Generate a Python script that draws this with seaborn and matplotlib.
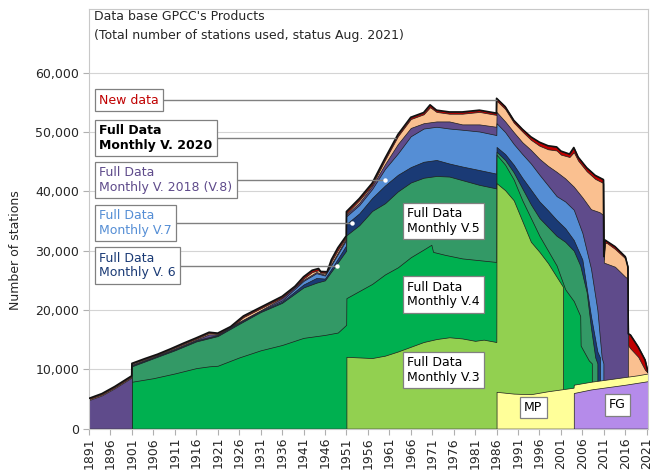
import matplotlib
matplotlib.use("Agg")
import matplotlib.pyplot as plt
import seaborn as sns
import pandas as pd
from matplotlib.ticker import FuncFormatter

# ---------------- data: cumulative upper boundary of each stacked layer ----------------
fg_years = [2004, 2008, 2012, 2016, 2021.3]
fg_vals = [6000, 6600, 7000, 7400, 8000]

mp_years = [1986, 1990, 1994, 1998, 2001, 2003.95, 2004, 2008, 2012, 2016, 2019, 2021.3]
mp_vals = [6200, 5900, 5800, 6300, 6600, 6900, 7400, 7900, 8300, 8700, 9000, 9300]

v3_years = [1951, 1954, 1957, 1960, 1963, 1966, 1969, 1972, 1975, 1978, 1981, 1983, 1985.95,
            1986, 1988, 1990, 1992, 1994, 1996, 1998, 2000, 2001.5]
v3_vals = [12100, 12000, 11900, 12300, 13000, 13800, 14600, 15100, 15400, 15200, 14800, 15000, 14600,
           41400, 40200, 38500, 35000, 31500, 29800, 27900, 25600, 23900]

v4_years = [1901, 1906, 1911, 1916, 1919, 1921, 1926, 1931, 1936, 1941, 1946, 1949, 1950.95,
            1951, 1954, 1957, 1960, 1963, 1966, 1969, 1970.8, 1971.2, 1974, 1978, 1982, 1985.95,
            1986, 1988, 1990, 1992, 1994, 1996, 1998, 2000, 2002, 2004, 2005.5, 2005.6, 2007.5, 2008.2]
v4_vals = [7900, 8500, 9300, 10200, 10500, 10600, 12000, 13200, 14100, 15300, 15800, 16200, 17500,
           22000, 23200, 24400, 26000, 27200, 28900, 30200, 31000, 29800, 29300, 28700, 28400, 28100,
           46200, 44500, 42000, 38500, 35500, 32500, 30000, 27500, 23500, 21500, 19000, 14000, 11500, 11000]

v5_years = [1901, 1906, 1911, 1916, 1921, 1926, 1931, 1936, 1941, 1944, 1946, 1948, 1950.95,
            1951, 1954, 1957, 1960, 1963, 1966, 1969, 1972, 1975, 1978, 1982, 1985.95,
            1986, 1988, 1990, 1992, 1994, 1996, 1998, 2000, 2002, 2004, 2005.5, 2007, 2008, 2009, 2009.5]
v5_vals = [10500, 11850, 13200, 14700, 15600, 17650, 19650, 21200, 23800, 24600, 25000, 27000, 30000,
           32600, 34300, 36700, 38000, 40000, 41500, 42300, 42600, 42500, 41900, 41100, 40500,
           46700, 45300, 43200, 40500, 37800, 35500, 34000, 32500, 31500, 30000, 27500, 23000, 17000, 12000, 11000]

v6_years = [1901, 1906, 1911, 1916, 1921, 1926, 1931, 1936, 1941, 1944, 1946, 1948, 1950.95,
            1951, 1954, 1957, 1960, 1963, 1966, 1969, 1972, 1975, 1978, 1982, 1985.95,
            1986, 1988, 1990, 1992, 1994, 1996, 1998, 2000, 2002, 2004, 2006, 2008, 2009.5, 2010.1]
v6_vals = [10600, 11950, 13300, 14800, 15700, 17800, 19800, 21400, 24300, 25400, 25300, 27500, 30900,
           34500, 36300, 38900, 41000, 42800, 44100, 45000, 45300, 44700, 44200, 43600, 43000,
           47500, 46300, 44500, 42300, 40300, 38300, 36800, 35200, 33800, 31800, 28500, 19000, 13000, 12000]

v7_years = [1901, 1906, 1911, 1916, 1921, 1926, 1931, 1936, 1941, 1944, 1946, 1948, 1950.95,
            1951, 1954, 1957, 1960, 1963, 1966, 1969, 1972, 1975, 1978, 1982, 1985.95,
            1986, 1988, 1990, 1992, 1994, 1996, 1998, 2000, 2002, 2004, 2006, 2008, 2009.5, 2010.5, 2010.9]
v7_vals = [10700, 12000, 13400, 14900, 15800, 17900, 19900, 21600, 24900, 26200, 25800, 28200, 31800,
           35800, 37700, 40400, 43800, 46400, 49300, 50600, 50900, 50600, 50400, 50100, 49500,
           51500, 50000, 48000, 46300, 44700, 42800, 41000, 39200, 38300, 36900, 33000, 27000, 20000, 12000, 11000]

v8_years = [1891, 1894, 1897, 1900.95, 1901, 1906, 1911, 1916, 1919, 1921, 1926, 1931, 1936, 1941,
            1944, 1946, 1948, 1950.95, 1951, 1954, 1957, 1960, 1963, 1966, 1969, 1972, 1975, 1978,
            1982, 1985.95, 1986, 1988, 1990, 1992, 1994, 1996, 1998, 2000, 2002, 2004, 2006, 2008,
            2010, 2010.9, 2011.0, 2013.6, 2016, 2016.6]
v8_vals = [4800, 5600, 6800, 8600, 10800, 12100, 13500, 15000, 15900, 15850, 18000, 19950, 22000, 25100,
           26400, 25950, 28400, 32100, 36100, 38100, 40900, 44600, 48000, 50700, 51500, 51800, 51800, 51300,
           51300, 50900, 53400, 51800, 50000, 48300, 47000, 45500, 44300, 43300, 42200, 40800, 39000, 37000,
           36500, 36000, 28000, 27300, 25600, 25300]

top_years = [1891, 1894, 1897, 1900.95, 1901, 1904, 1907, 1910, 1913, 1916, 1919, 1921, 1924, 1927,
             1930, 1933, 1936, 1939, 1941, 1943, 1944.5, 1945, 1946.5, 1947.5, 1949, 1950.95, 1951,
             1954, 1957, 1960, 1963, 1966, 1969, 1970.5, 1972, 1975, 1978, 1982, 1985.95, 1986, 1988,
             1990, 1992, 1994, 1996, 1998, 2000, 2001, 2003, 2004, 2005, 2007, 2009, 2010.9, 2011.0,
             2011.3, 2011.7, 2013.6, 2016.0, 2016.6, 2016.7, 2017.2, 2019, 2020.6, 2021.3]
v2020_vals = [4950, 5750, 6950, 8750, 10950, 11700, 12450, 13350, 14250, 15150, 16100, 15950, 17000, 18800,
              19900, 21000, 22100, 23700, 25300, 26400, 26700, 26300, 26250, 28200, 30100, 32300, 36300,
              38500, 41100, 45300, 49300, 52200, 53000, 54200, 53400, 53100, 53100, 53400, 52900, 55300, 53900,
              51600, 50100, 48700, 47700, 47100, 46900, 46200, 45800, 46600, 45200, 43400, 42100, 41400, 28500,
              31300, 31300, 30300, 28700, 27000, 14000, 13500, 12100, 9900, 9400]
total_vals = [5100, 5900, 7100, 8900, 11000, 11800, 12550, 13450, 14400, 15300, 16250, 16100, 17200, 19000,
              20100, 21200, 22300, 24000, 25600, 26700, 27000, 26500, 26450, 28500, 30500, 32500, 36600,
              38800, 41400, 45600, 49600, 52500, 53300, 54600, 53700, 53400, 53400, 53700, 53200, 55700, 54300,
              52000, 50500, 49200, 48300, 47700, 47500, 46800, 46300, 47400, 45800, 44000, 42700, 42000, 29000,
              31800, 31600, 30700, 29000, 27300, 16000, 15800, 13800, 11600, 9500]

tick_years = list(range(1891, 2022, 5))
y_ticks = [0, 10000, 20000, 30000, 40000, 50000, 60000]

title_lines = ["Data base GPCC's Products", "(Total number of stations used, status Aug. 2021)"]

# ---------------- style ----------------
sns.set_theme(style="white")
plt.rcParams['font.family'] = ['DejaVu Sans']

C_NEW, C_V20, C_V8 = "#c00000", "#fac090", "#5f4b8b"
C_V7, C_V6, C_V5 = "#558ed5", "#1a3a75", "#339966"
C_V4, C_V3, C_MP, C_FG = "#00b050", "#92d050", "#ffff99", "#b58bea"

fig = plt.figure(figsize=(6.59, 4.70), dpi=100)
ax = fig.add_axes([89 / 659, 1 - 428.6 / 470, (648 - 89) / 659, (428.6 - 9) / 470])

ax.set_axisbelow(True)
ax.yaxis.grid(True, color="#d4d4d4", lw=0.8, zorder=0)
ax.xaxis.grid(False)

layers = [
    (top_years, total_vals, C_NEW),
    (top_years, v2020_vals, C_V20),
    (v8_years, v8_vals, C_V8),
    (v7_years, v7_vals, C_V7),
    (v6_years, v6_vals, C_V6),
    (v5_years, v5_vals, C_V5),
    (v4_years, v4_vals, C_V4),
    (v3_years, v3_vals, C_V3),
    (mp_years, mp_vals, C_MP),
    (fg_years, fg_vals, C_FG),
]
for yrs, vals, col in layers:
    ax.fill_between(yrs, 0, vals, facecolor=col, edgecolor="#1e1e1e", linewidth=0.5, zorder=2)

df_total = pd.DataFrame({"year": top_years, "stations": total_vals})
sns.lineplot(data=df_total, x="year", y="stations", ax=ax, color="#111111", lw=1.2,
             sort=False, estimator=None, zorder=3)

# ---------------- annotation boxes ----------------
FS = 9
GRAY = "#808080"

def box(edge=GRAY):
    return dict(boxstyle="square,pad=0.35", facecolor="white", edgecolor=edge, linewidth=0.9)

left_x = 1893.4
left_labels = [
    ("New data", 55400, 1986.0, C_NEW, "normal", False),
    ("Full Data\nMonthly V. 2020", 49000, 1962.5, "black", "bold", False),
    ("Full Data\nMonthly V. 2018 (V.8)", 41900, 1960.0, C_V8, "normal", True),
    ("Full Data\nMonthly V.7", 34700, 1952.3, C_V7, "normal", True),
    ("Full Data\nMonthly V. 6", 27500, 1948.8, C_V6, "normal", True),
]
for txt, yv, xend, col, wt, dot in left_labels:
    ax.plot([left_x, xend], [yv, yv], color=GRAY, lw=1.0, zorder=4, solid_capstyle="butt")
    if dot:
        ax.plot([xend], [yv], "o", color="white", ms=3.2, mec="none", zorder=4.5)
    ax.text(left_x, yv, txt, color=col, fontsize=FS, fontweight=wt, ha="left", va="center",
            linespacing=1.15, bbox=box(), zorder=5)

mid_labels = [
    ("Full Data\nMonthly V.5", 1965.1, 35000),
    ("Full Data\nMonthly V.4", 1965.1, 22600),
    ("Full Data\nMonthly V.3", 1965.1, 9900),
]
for txt, xv, yv in mid_labels:
    ax.text(xv, yv, txt, color="black", fontsize=FS, ha="left", va="center",
            linespacing=1.15, bbox=box(), zorder=5)

ax.text(1994.5, 3560, "MP", color="black", fontsize=FS, ha="center", va="center", bbox=box(), zorder=5)
ax.text(2014.2, 4000, "FG", color="black", fontsize=FS, ha="center", va="center", bbox=box(), zorder=5)

ax.text(0.009, 0.981, title_lines[0], transform=ax.transAxes, fontsize=FS, ha="left", va="center", zorder=6)
ax.text(0.009, 0.938, title_lines[1], transform=ax.transAxes, fontsize=FS, ha="left", va="center", zorder=6)

# ---------------- axes ----------------
ax.set_xlim(1891, 2021.3)
ax.set_ylim(0, 70760)
ax.set_xticks(tick_years)
ax.set_xticklabels([str(y) for y in tick_years], rotation=90, fontsize=FS)
ax.set_yticks(y_ticks)
ax.yaxis.set_major_formatter(FuncFormatter(lambda v, p: f"{int(v):,}"))
ax.tick_params(axis="y", labelsize=FS, length=4, width=0.8, color="#b0b0b0", pad=3, left=True)
ax.tick_params(axis="x", length=4, width=0.8, color="#b0b0b0", pad=2, bottom=True)
ax.set_xlabel("")
ax.set_ylabel("Number of stations", fontsize=FS)
ax.yaxis.set_label_coords(-0.12, 0.425)
for s in ax.spines.values():
    s.set_color("#c8c8c8")
    s.set_linewidth(0.8)

fig.savefig("out.png", dpi=100)
